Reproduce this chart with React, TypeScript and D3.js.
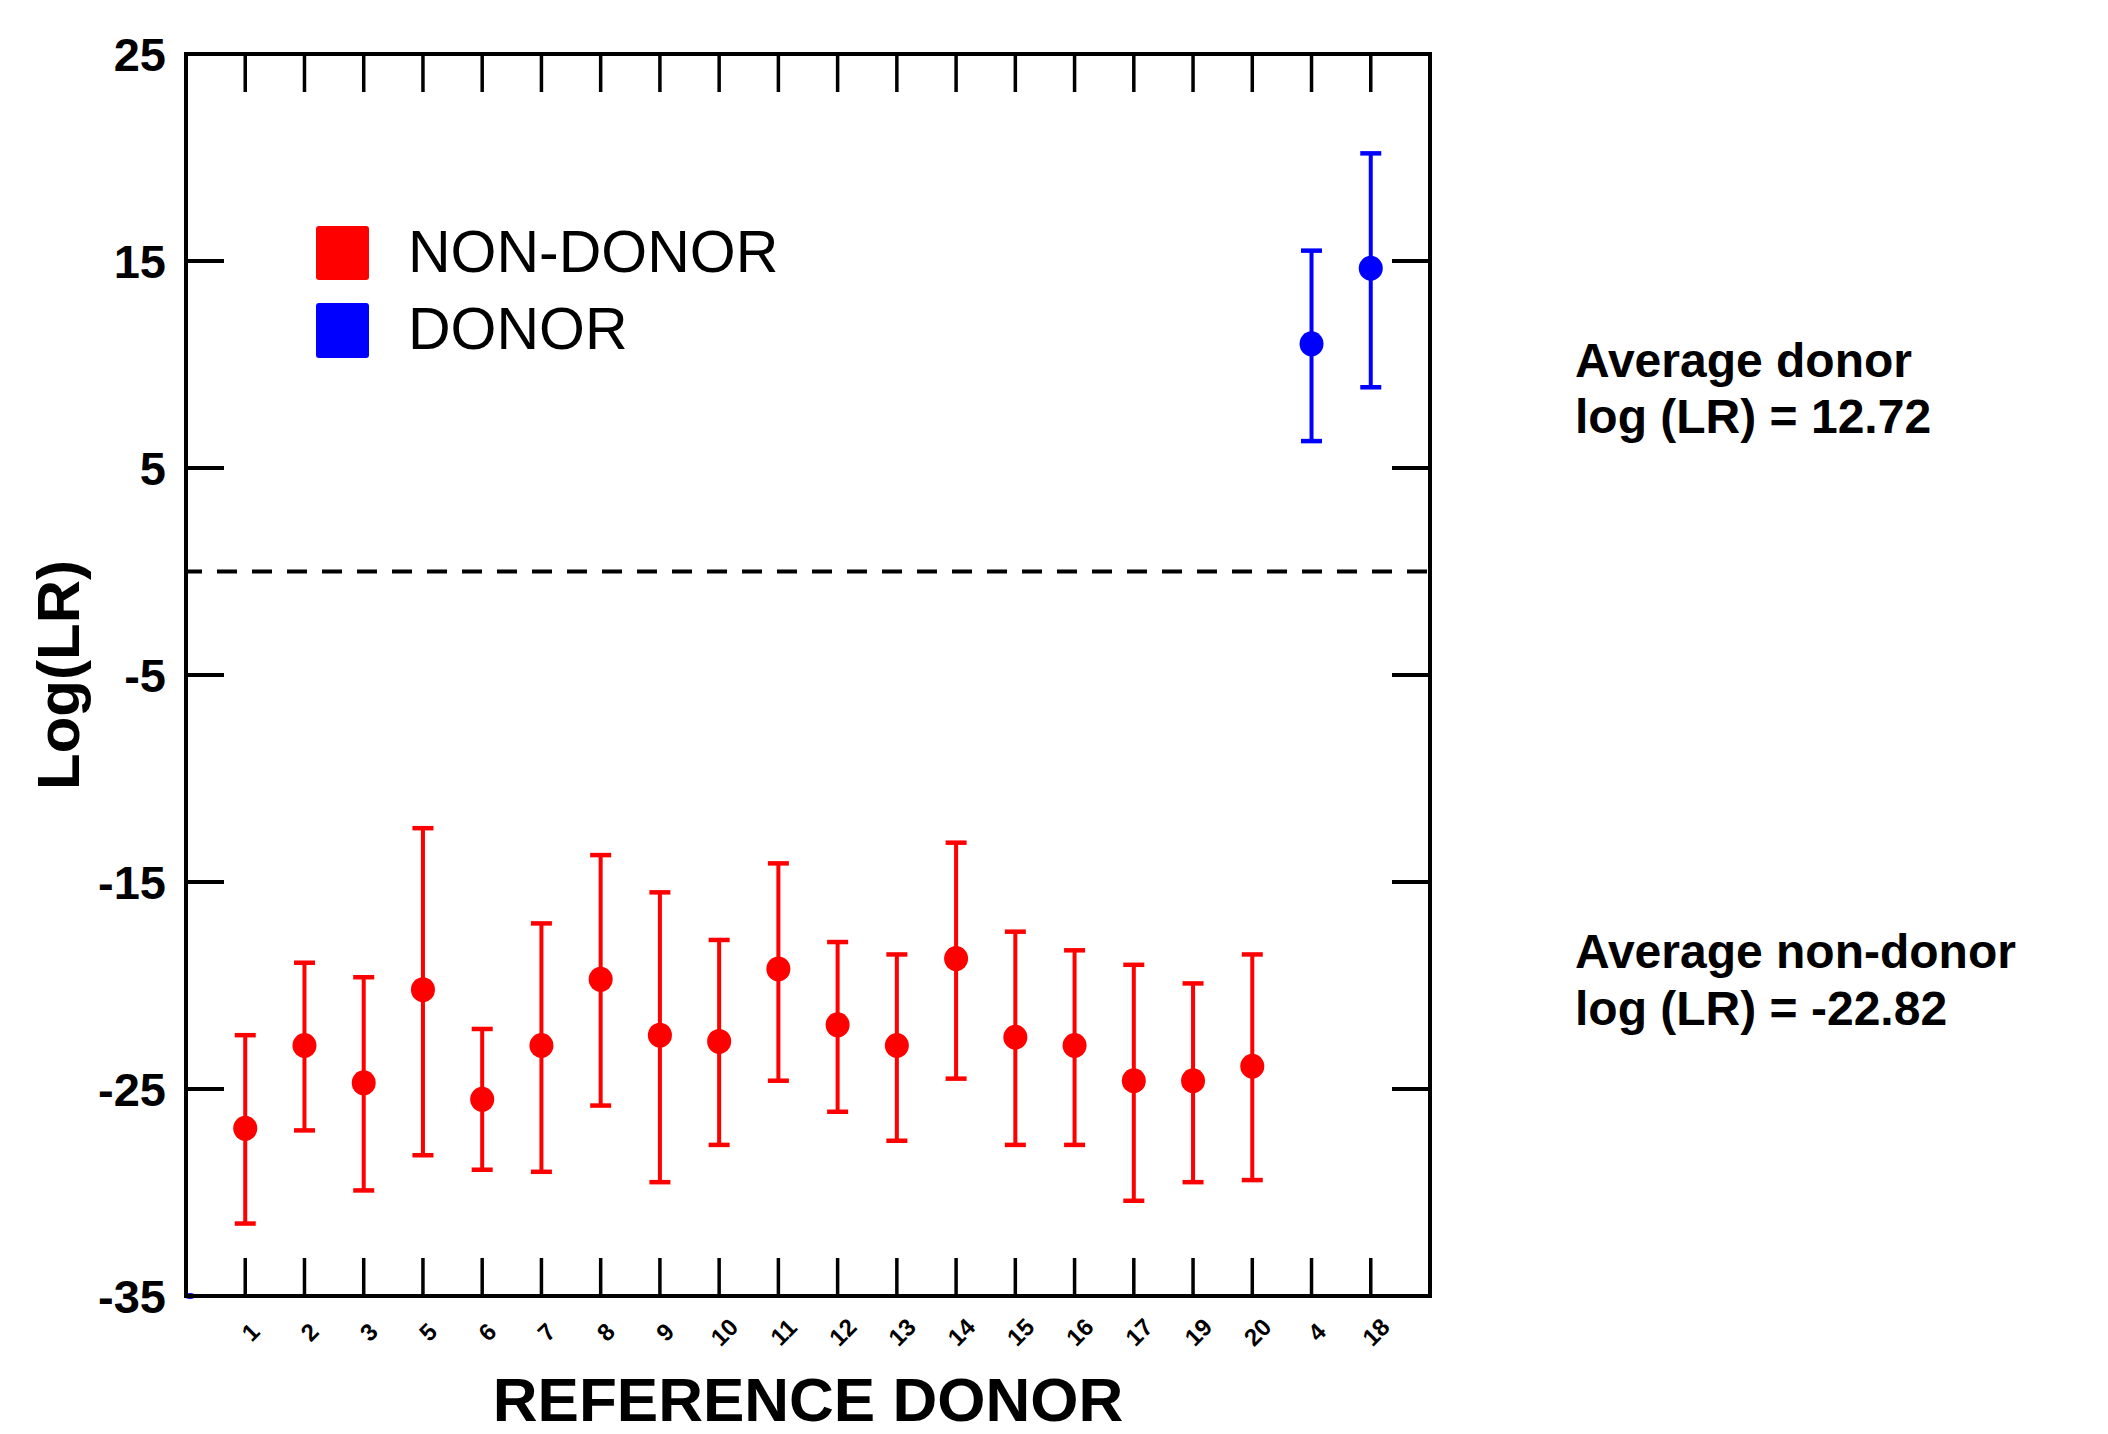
import * as React from 'react';
import * as d3 from 'd3';

// reference donors along the x axis, in plotted order
const donors = ['1', '2', '3', '5', '6', '7', '8', '9', '10', '11', '12', '13', '14', '15', '16', '17', '19', '20', '4', '18'];

// non-donor log(LR) estimates with interval bounds
const nonDonorIds = ['1', '2', '3', '5', '6', '7', '8', '9', '10', '11', '12', '13', '14', '15', '16', '17', '19', '20'];
const nonDonorMean = [-26.9, -22.9, -24.7, -20.2, -25.5, -22.9, -19.7, -22.4, -22.7, -19.2, -21.9, -22.9, -18.7, -22.5, -22.9, -24.6, -24.6, -23.9];
const nonDonorLow = [-31.5, -27.0, -29.9, -28.2, -28.9, -29.0, -25.8, -29.5, -27.7, -24.6, -26.1, -27.5, -24.5, -27.7, -27.7, -30.4, -29.5, -29.4];
const nonDonorHigh = [-22.4, -18.9, -19.6, -12.4, -22.1, -17.0, -13.7, -15.5, -17.8, -14.1, -17.9, -18.5, -13.1, -17.4, -18.3, -19.0, -19.9, -18.5];

// donor log(LR)
const donorIds = ['4', '18'];
const donorMean = [11.0, 14.65];
const donorLow = [6.3, 8.9];
const donorHigh = [15.5, 20.2];

const yTicks = [25, 15, 5, -5, -15, -25, -35];

const FONT = '"Liberation Sans", Arial, sans-serif';

const App: React.FC = () => {
    const width = 2108;
    const height = 1434;
    const left = 186, right = 1430, top = 54, bottom = 1296;
    const tickLen = 38;

    const x = d3.scalePoint<string>().domain(donors).range([left, right]).padding(1);
    const y = d3.scaleLinear().domain([-35, 25]).range([bottom, top]);

    const groups = [
        { ids: nonDonorIds, mean: nonDonorMean, low: nonDonorLow, high: nonDonorHigh, color: '#ff0000' },
        { ids: donorIds, mean: donorMean, low: donorLow, high: donorHigh, color: '#0000ff' },
    ];

    return (
        <svg width={width} height={height} style={{ position: 'absolute', left: 0, top: 0, background: '#fff' }} fontFamily={FONT}>
            {/* zero line */}
            <line x1={left} x2={right} y1={y(0)} y2={y(0)} stroke="#000" strokeWidth={4} strokeDasharray="20 15" strokeDashoffset={4} />

            {/* error bars + points */}
            {groups.map((g, gi) => (
                <g key={gi} stroke={g.color} fill={g.color}>
                    {g.ids.map((id, i) => {
                        const cx = x(id) as number;
                        return (
                            <g key={id}>
                                <line x1={cx} x2={cx} y1={y(g.low[i])} y2={y(g.high[i])} strokeWidth={4} />
                                <line x1={cx - 10.5} x2={cx + 10.5} y1={y(g.high[i])} y2={y(g.high[i])} strokeWidth={4.5} />
                                <line x1={cx - 10.5} x2={cx + 10.5} y1={y(g.low[i])} y2={y(g.low[i])} strokeWidth={4.5} />
                                <ellipse cx={cx} cy={y(g.mean[i])} rx={12} ry={12.5} stroke="none" />
                            </g>
                        );
                    })}
                </g>
            ))}

            {/* little blue stub at the corner */}
            <ellipse cx={left + 4} cy={bottom} rx={6} ry={3} fill="#0000ff" />

            {/* frame */}
            <rect x={left} y={top} width={right - left} height={bottom - top} fill="none" stroke="#000" strokeWidth={4} />

            {/* x ticks top and bottom */}
            {donors.map(d => (
                <g key={d} stroke="#000" strokeWidth={3.5}>
                    <line x1={x(d)} x2={x(d)} y1={top} y2={top + tickLen} />
                    <line x1={x(d)} x2={x(d)} y1={bottom} y2={bottom - tickLen} />
                </g>
            ))}

            {/* y ticks left and right */}
            {yTicks.map(t => (
                <g key={t} stroke="#000" strokeWidth={4}>
                    <line x1={left} x2={left + tickLen} y1={y(t)} y2={y(t)} />
                    <line x1={right} x2={right - tickLen} y1={y(t)} y2={y(t)} />
                </g>
            ))}

            {/* y tick labels */}
            {yTicks.map(t => (
                <text key={t} x={166} y={y(t)} dy="0.36em" textAnchor="end" fontSize={47} fontWeight="bold">
                    {String(t)}
                </text>
            ))}

            {/* x tick labels */}
            {donors.map(d => (
                <text key={d} transform={`translate(${(x(d) as number) + 5},${1332}) rotate(-45)`}
                    textAnchor="middle" dy="0.36em" fontSize={24} fontWeight="bold">
                    {d}
                </text>
            ))}

            {/* axis titles */}
            <text x={(left + right) / 2} y={1421} textAnchor="middle" fontSize={62} fontWeight="bold">REFERENCE DONOR</text>
            <text transform={`translate(79,${(top + bottom) / 2}) rotate(-90)`} textAnchor="middle" fontSize={60} fontWeight="bold">Log(LR)</text>

            {/* legend */}
            <rect x={316} y={226} width={53} height={54} rx={3} fill="#ff0000" />
            <rect x={316} y={303} width={53} height={55} rx={3} fill="#0000ff" />
            <text x={408} y={272} fontSize={59}>NON-DONOR</text>
            <text x={408} y={349} fontSize={59}>DONOR</text>

            {/* annotations */}
            <text x={1575} y={377} fontSize={48} fontWeight="bold">Average donor</text>
            <text x={1575} y={433} fontSize={48} fontWeight="bold">log (LR) = 12.72</text>
            <text x={1575} y={968} fontSize={48} fontWeight="bold">Average non-donor</text>
            <text x={1575} y={1025} fontSize={48} fontWeight="bold">log (LR) = -22.82</text>
        </svg>
    );
};

export default App;
